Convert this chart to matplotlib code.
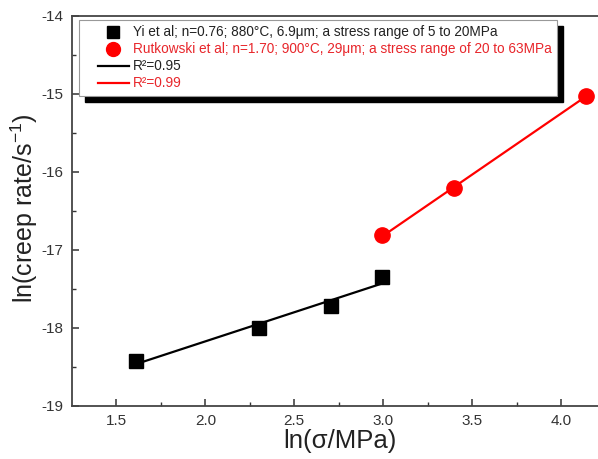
import numpy as np
import matplotlib
matplotlib.use("Agg")
import matplotlib.pyplot as plt
from matplotlib.lines import Line2D
from matplotlib.patches import Rectangle
from matplotlib.legend_handler import HandlerLine2D

plt.rcParams["font.family"] = ["Liberation Sans", "DejaVu Sans"]
plt.rcParams["mathtext.fontset"] = "custom"
plt.rcParams["mathtext.rm"] = "Liberation Sans"
plt.rcParams["mathtext.it"] = "Liberation Sans:italic"
plt.rcParams["mathtext.default"] = "regular"
plt.rcParams["axes.unicode_minus"] = False

# Yi et al (5 to 20 MPa)
yi_x = [1.609, 2.303, 2.708, 2.996]
yi_y = [-18.42, -18.00, -17.72, -17.34]
# Rutkowski et al (20 to 63 MPa)
rut_x = [2.996, 3.401, 4.143]
rut_y = [-16.81, -16.21, -15.02]

labels = [
    "Yi et al; n=0.76; 880°C, 6.9μm; a stress range of 5 to 20MPa",
    "Rutkowski et al; n=1.70; 900°C, 29μm; a stress range of 20 to 63MPa",
    "R²=0.95",
    "R²=0.99",
]
RED = "#ff0000"
TXT_RED = "#e8262b"

fig = plt.figure(figsize=(5.98, 4.59), dpi=100)
ax = fig.add_axes([0.1204, 0.1155, 0.892, 0.8497])

# linear fits
for xs, ys, c in [(yi_x, yi_y, "black"), (rut_x, rut_y, RED)]:
    k, b = np.polyfit(xs, ys, 1)
    fx = np.array([min(xs), max(xs)])
    ax.plot(fx, k * fx + b, color=c, lw=1.6, zorder=2)

ax.plot(yi_x, yi_y, ls="none", marker="s", ms=10, color="black", zorder=3)
ax.plot(rut_x, rut_y, ls="none", marker="o", ms=11, color=RED, zorder=3)

ax.set_xlim(1.25, 4.25)
ax.set_ylim(-19, -14)
ax.set_xticks([1.5, 2.0, 2.5, 3.0, 3.5, 4.0])
ax.set_xticks([1.75, 2.25, 2.75, 3.25, 3.75, 4.25], minor=True)
ax.set_yticks([-19, -18, -17, -16, -15, -14])
ax.set_yticks([-18.5, -17.5, -16.5, -15.5, -14.5], minor=True)
ax.set_xticklabels(["1.5", "2.0", "2.5", "3.0", "3.5", "4.0"])
ax.tick_params(which="both", direction="in", colors="#333333", labelsize=11)
ax.tick_params(which="major", length=5, width=1.1)
ax.tick_params(which="minor", length=3, width=1.0)
ax.tick_params(axis="y", pad=6)
ax.tick_params(axis="x", pad=6)
for s in ax.spines.values():
    s.set_color("#444444")
    s.set_linewidth(1.3)

ax.set_xlabel("ln(σ/MPa)", fontsize=18.5, color="#222222")
ax.set_ylabel("ln(creep rate/s$^{-1}$)", fontsize=18, color="#222222")
ax.yaxis.set_label_coords(-0.06, 0.508)
ax.xaxis.set_label_coords(0.503, -0.06)

handles = [
    Line2D([], [], ls="none", marker="s", ms=8.5, color="black"),
    Line2D([], [], ls="none", marker="o", ms=10, color=RED),
    Line2D([], [], color="black", lw=1.6),
    Line2D([], [], color=RED, lw=1.6),
]
leg = ax.legend(handles, labels, loc="upper left", bbox_to_anchor=(0.013, 0.99),
                borderaxespad=0, fontsize=9.8, fancybox=False, framealpha=1,
                edgecolor="#999999", handlelength=3.27, handletextpad=0.3,
                labelspacing=0.22, borderpad=0.4,
                handler_map={Line2D: HandlerLine2D(xpad=1.0)})
leg.get_frame().set_linewidth(0.8)
for t, c in zip(leg.get_texts(), ["#222222", TXT_RED, "#222222", TXT_RED]):
    t.set_color(c)

# drop shadow behind the legend box
fig.canvas.draw()
bb = leg.get_window_extent().transformed(ax.transAxes.inverted())
ax.add_patch(Rectangle((bb.x0 + 6 / 533, bb.y0 - 6 / 390), bb.width, bb.height,
                       transform=ax.transAxes, color="black", zorder=4.5,
                       clip_on=False))

fig.savefig("out.png", dpi=100)
